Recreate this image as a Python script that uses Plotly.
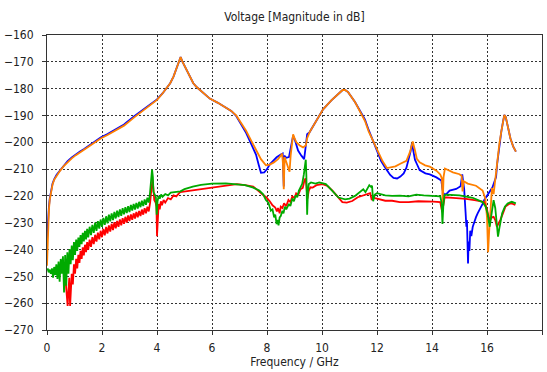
import plotly.graph_objects as go

# ---------------- data ----------------
orange_f = [0.0, 0.02, 0.04, 0.07, 0.10, 0.15, 0.20, 0.26, 0.35, 0.45, 0.6, 0.75, 0.9, 1.05, 1.2, 1.35, 1.5, 1.7, 1.95,
            2.2, 2.5, 2.8, 3.16, 3.5, 3.8, 4.0, 4.2, 4.48, 4.6, 4.72, 4.8, 4.86, 4.92, 5.0, 5.08, 5.2, 5.32, 5.45, 5.57,
            5.75, 5.92, 6.2, 6.52, 6.7, 6.88, 7.05, 7.24, 7.42, 7.6, 7.78, 7.96, 8.1, 8.25, 8.4, 8.5, 8.55, 8.58, 8.61,
            8.64, 8.70, 8.77, 8.82, 8.86, 8.92, 8.95, 9.0, 9.07, 9.19, 9.31, 9.41, 9.46, 9.55, 9.8, 10.04, 10.34, 10.6,
            10.75, 10.84, 10.95, 11.2, 11.33, 11.45, 11.56, 11.7, 11.85, 12.0, 12.2, 12.36, 12.5, 12.67, 12.83, 13.07,
            13.2, 13.3, 13.38, 13.45, 13.55, 13.75, 13.92, 14.16, 14.3, 14.36, 14.39, 14.42, 14.47, 14.58, 14.76, 15.0,
            15.08, 15.11, 15.15, 15.3, 15.6, 15.84, 15.94, 16.0, 16.04, 16.08, 16.13, 16.18, 16.24, 16.3, 16.36, 16.45,
            16.52, 16.58, 16.63, 16.68, 16.75, 16.85, 16.95, 17.05]
orange_v = [-246, -238, -230, -225, -221.5, -218, -215.8, -214, -212.3, -211, -209, -207.3, -206, -204.8, -203.8, -202.9,
            -201.8, -200.4, -198.6, -197.3, -195.6, -193.8, -190.8, -188.2, -185.8, -184.2, -181.8, -178, -175.5, -172,
            -169.8, -168.2, -169.8, -171.5, -173.2, -175.8, -178, -179.5, -180.6, -182.3, -183.7, -185.2, -187, -188.3,
            -190, -192.5, -195.7, -199.3, -203, -206.3, -208.6, -208.3, -207.5, -206.3, -205, -204.2, -208, -217.5,
            -205.5, -207.5, -209.4, -211, -205, -198.5, -197, -198.5, -200, -201.2, -201.9, -201.2, -198.5, -196.2,
            -191.9, -187.7, -184.4, -181.7, -180.5, -180.5, -181.3, -185, -187.4, -189.5, -192, -196, -199.5, -202.8,
            -207, -209.6, -209.3, -209, -208.1, -206.9, -203.6, -199.7, -203, -206.2, -207.5, -208.6, -209.1, -210.6,
            -212, -213.5, -222.5, -213, -209.8, -210.4, -211.2, -211.9, -212.6, -218.3, -214.5, -215.4, -216.2, -218,
            -221, -228, -241, -233, -222, -217, -219.3, -214, -207, -200.5, -196, -192.5, -189.8, -190.5, -193.5,
            -198.5, -201.5, -203.5]

blue_f = [0.0, 0.02, 0.04, 0.07, 0.10, 0.15, 0.20, 0.26, 0.35, 0.45, 0.6, 0.75, 0.9, 1.05, 1.2, 1.35, 1.5, 1.7, 1.95,
          2.2, 2.5, 2.8, 3.16, 3.5, 3.8, 4.0, 4.2, 4.48, 4.6, 4.72, 4.8, 4.86, 4.92, 5.0, 5.08, 5.2, 5.32, 5.45, 5.57,
          5.75, 5.92, 6.2, 6.52, 6.7, 6.88, 7.05, 7.24, 7.42, 7.6, 7.7, 7.78, 7.9, 8.0, 8.11, 8.35, 8.5, 8.57, 8.59,
          8.61, 8.63, 8.7, 8.8, 8.88, 8.95, 9.02, 9.13, 9.25, 9.35, 9.39, 9.42, 9.46, 9.55, 9.8, 10.04, 10.34, 10.6,
          10.75, 10.84, 10.95, 11.2, 11.33, 11.45, 11.56, 11.7, 11.85, 12.0, 12.15, 12.3, 12.48, 12.6, 12.73, 12.85,
          12.97, 13.07, 13.15, 13.22, 13.27, 13.32, 13.38, 13.45, 13.55, 13.76, 13.92, 14.16, 14.34, 14.38, 14.42,
          14.52, 14.64, 14.88, 15.04, 15.08, 15.10, 15.13, 15.17, 15.22, 15.25, 15.27, 15.29, 15.31, 15.33, 15.36,
          15.39, 15.43, 15.48, 15.54, 15.6, 15.66, 15.72, 15.78, 15.84, 15.9, 15.96, 16.02, 16.08, 16.14, 16.2, 16.26,
          16.33, 16.37, 16.42, 16.48, 16.52, 16.58, 16.63, 16.68, 16.75, 16.85, 16.95, 17.05]
blue_v = [-236.5, -232, -228, -224, -221, -217.7, -215.5, -213.8, -212.1, -210.8, -208.8, -207.0, -205.7, -204.4, -203.4,
          -202.5, -201.4, -200.0, -198.2, -196.9, -195.2, -193.4, -190.4, -187.8, -185.4, -184.0, -181.8, -178, -175.5,
          -172, -169.8, -168.2, -169.8, -171.5, -173.2, -175.8, -178, -179.5, -180.6, -182.3, -183.7, -185.2, -187,
          -188.3, -190.2, -193, -196.5, -200.5, -204.6, -208.5, -211.4, -211.2, -210, -208.1, -205.6, -204.6, -204.2,
          -210, -216.5, -205, -205.8, -205.5, -201.5, -197.5, -199.3, -203.1, -205, -206.3, -203, -199, -197, -196.2,
          -191.9, -187.7, -184.4, -181.7, -180.5, -180.5, -181.3, -185, -187.4, -189.3, -191.5, -195.5, -199.5,
          -203.5, -207, -209.5, -212.2, -213.3, -213.5, -212.8, -211.6, -209.5, -206.6, -203.5, -200.3, -203, -206.5,
          -208.1, -210.4, -211.6, -212, -213.1, -214.3, -217.5, -219.3, -219.3, -218, -217.4, -216.4, -213.5, -212,
          -214.5, -217.5, -226, -231.5, -229, -238, -245.2, -237, -240.5, -233, -235, -231.6, -229.5, -227.9, -226.5,
          -225.4, -224.5, -223, -221.5, -220.5, -219.8, -218.6, -218, -216.8, -215, -213, -208, -203.5, -199.5, -196,
          -192.5, -189.8, -190.5, -193.5, -198.5, -201.5, -203.5]

red_f = [0.68, 0.72, 0.75, 0.78, 0.81, 0.84, 0.87, 0.90, 0.94, 0.98, 1.02, 1.06, 1.10, 1.14, 1.18, 1.22, 1.26, 1.30,
         1.34, 1.38, 1.42, 1.46, 1.50, 1.55, 1.60, 1.65, 1.70, 1.75, 1.80, 1.85, 1.90, 1.95, 2.00, 2.05, 2.10, 2.15,
         2.20, 2.25, 2.30, 2.35, 2.40, 2.45, 2.50, 2.55, 2.60, 2.65, 2.70, 2.75, 2.80, 2.85, 2.90, 2.95, 3.00, 3.05,
         3.10, 3.15, 3.20, 3.25, 3.30, 3.35, 3.40, 3.45, 3.50, 3.55, 3.60, 3.65, 3.70, 3.75, 3.80, 3.84, 3.87, 3.90,
         3.95, 3.98, 4.00, 4.03, 4.06, 4.10, 4.14, 4.18, 4.24, 4.30, 4.40, 4.50, 4.60, 4.70, 4.84, 5.1, 6.0, 6.9,
         7.2, 7.5, 7.84, 7.98, 8.1, 8.2, 8.3, 8.36, 8.40, 8.46, 8.50, 8.56, 8.62, 8.70, 8.78, 8.85, 8.92, 9.0, 9.06,
         9.14, 9.22, 9.30, 9.36, 9.40, 9.43, 9.47, 9.52, 9.58, 9.66, 9.8, 10.02, 10.2, 10.38, 10.55, 10.74, 10.9,
         11.1, 11.3, 11.57, 11.75, 11.81, 11.87, 11.93, 12.06, 12.3, 12.55, 12.83, 13.15, 13.5, 14.04, 14.3, 14.37,
         14.4, 14.46, 14.76, 15.24, 15.6, 15.9, 16.0, 16.06, 16.12, 16.18, 16.24, 16.3, 16.36, 16.42, 16.48, 16.58,
         16.67, 16.8, 16.9, 17.03]
red_v = [-252.0, -257.0, -261.0, -255.0, -250.5, -261.0, -256.0, -249.0, -253.0, -245.5, -249.0, -243.5, -247.0, -242.0,
         -245.0, -240.5, -243.5, -239.2, -242.2, -238.2, -241.0, -237.2, -240.0, -236.3, -239.0, -235.4, -238.0, -234.5,
         -237.0, -233.7, -236.2, -233.0, -235.4, -232.3, -234.7, -231.6, -234.0, -231.0, -233.3, -230.4, -232.7, -229.8,
         -232.1, -229.3, -231.5, -228.8, -231.0, -228.3, -230.4, -227.8, -229.9, -227.3, -229.4, -226.9, -228.9, -226.5,
         -228.4, -226.0, -228.0, -225.6, -227.5, -225.1, -227.0, -224.6, -226.5, -224.0, -225.8, -222.5, -217.0, -214.0,
         -217.5, -221.5, -222.5, -224.0, -235.0, -225.5, -223.0, -225.0, -222.0, -223.5, -221.5, -222.5, -220.8, -221.3,
         -219.8, -220.2, -218.6, -218.2, -217.0, -215.6, -216.0, -216.5, -219.5, -220.6, -222.0, -223.5, -224.3, -225.8,
         -224.5, -226.5, -224.0, -224.5, -222.8, -223.8, -221.5, -222.3, -220.2, -220.8, -219.0, -219.5, -217.5, -217.0,
         -214.3, -213.5, -216.0, -221.0, -218.0, -216.8, -216.9, -216.0, -215.6, -216.3, -218.0, -220.0, -222.3, -222.5,
         -221.9, -220.5, -219.6, -219.0, -221.5, -220.5, -220.8, -221.2, -221.8, -221.8, -222.3, -222.3, -222.0, -222.1,
         -222.3, -226.0, -223.5, -220.5, -220.7, -221.1, -221.7, -222.3, -225.0, -227.9, -229.0, -228.0, -227.8, -229.0,
         -231.5, -230.5, -229.0, -226.5, -224.0, -223.0, -222.8, -223.4]

green_f = [0.02, 0.06, 0.10, 0.14, 0.18, 0.22, 0.26, 0.30, 0.34, 0.38, 0.42, 0.46, 0.50, 0.54, 0.58, 0.62, 0.66, 0.70,
           0.74, 0.78, 0.82, 0.86, 0.90, 0.94, 0.98, 1.02, 1.06, 1.10, 1.14, 1.18, 1.22, 1.26, 1.30, 1.34, 1.38, 1.42,
           1.46, 1.50, 1.55, 1.60, 1.65, 1.70, 1.75, 1.80, 1.85, 1.90, 1.95, 2.00, 2.05, 2.10, 2.15, 2.20, 2.25, 2.30,
           2.35, 2.40, 2.45, 2.50, 2.55, 2.60, 2.65, 2.70, 2.75, 2.80, 2.85, 2.90, 2.95, 3.00, 3.05, 3.10, 3.15, 3.20,
           3.25, 3.30, 3.35, 3.40, 3.45, 3.50, 3.55, 3.60, 3.65, 3.70, 3.74, 3.78, 3.82, 3.85, 3.87, 3.92, 3.96, 3.99,
           4.02, 4.06, 4.10, 4.15, 4.20, 4.30, 4.40, 4.50, 4.65, 4.85, 5.0, 5.3, 5.6, 6.0, 6.5, 6.9, 7.2, 7.5, 7.72,
           7.86, 7.96, 8.05, 8.14, 8.2, 8.26, 8.30, 8.35, 8.38, 8.42, 8.46, 8.50, 8.56, 8.60, 8.65, 8.70, 8.80, 8.85,
           8.92, 8.98, 9.04, 9.10, 9.16, 9.22, 9.28, 9.34, 9.38, 9.41, 9.43, 9.46, 9.49, 9.52, 9.6, 9.76, 9.9, 10.0,
           10.14, 10.24, 10.4, 10.6, 10.84, 11.0, 11.2, 11.4, 11.5, 11.58, 11.68, 11.72, 11.78, 11.82, 11.86, 11.92,
           12.0, 12.3, 12.55, 12.83, 13.15, 13.43, 13.7, 14.04, 14.3, 14.35, 14.38, 14.41, 14.45, 14.52, 15.0, 15.48,
           15.84, 15.95, 16.02, 16.06, 16.10, 16.14, 16.18, 16.24, 16.30, 16.36, 16.40, 16.45, 16.55, 16.65, 16.75,
           16.9, 17.05]
green_v = [-247.0, -248.5, -247.5, -249.0, -247.0, -250.5, -246.5, -249.5, -245.5, -251.0, -244.5, -252.0, -243.5, -249.0,
           -242.5, -256.0, -242.0, -253.5, -241.0, -249.0, -239.8, -245.5, -238.5, -244.0, -237.2, -242.0, -236.3, -240.5,
           -235.5, -239.0, -234.6, -238.0, -233.8, -237.0, -233.0, -236.2, -232.3, -235.5, -231.5, -234.6, -230.8, -233.8,
           -230.0, -233.0, -229.4, -232.2, -228.8, -231.5, -228.2, -230.8, -227.6, -230.2, -227.0, -229.5, -226.5, -229.0,
           -226.0, -228.4, -225.5, -227.9, -225.0, -227.4, -224.6, -226.9, -224.2, -226.4, -223.8, -226.0, -223.4, -225.5,
           -223.0, -225.1, -222.6, -224.7, -222.2, -224.2, -221.8, -223.8, -221.3, -223.3, -220.7, -222.5, -219.5, -215.0,
           -210.2, -213.0, -218.5, -219.5, -220.5, -227.0, -222.0, -220.0, -221.0, -219.5, -220.3, -219.3, -219.8, -218.8,
           -218.5, -218.3, -217.5, -216.5, -215.9, -215.4, -215.3, -215.6, -216.0, -216.9, -218.0, -219.4, -221.5, -222.5,
           -225.5, -225.0, -228.0, -227.0, -230.5, -229.0, -231.0, -228.0, -227.5, -225.5, -226.5, -224.0, -225.0, -223.0,
           -223.8, -221.0, -222.0, -219.8, -220.5, -218.0, -217.0, -215.5, -212.0, -208.0, -206.5, -212.0, -227.0, -218.0,
           -215.6, -215.0, -215.4, -215.0, -215.2, -215.6, -216.6, -218.3, -220.6, -221.3, -221.0, -220.0, -218.5, -217.5,
           -218.6, -217.0, -216.0, -216.6, -216.2, -222.0, -219.5, -219.0, -219.8, -220.0, -219.9, -220.2, -219.5, -219.8,
           -219.9, -220.2, -222.5, -230.5, -224.0, -219.8, -219.5, -219.8, -220.7, -222.3, -224.0, -226.5, -229.0, -231.5,
           -228.5, -226.0, -221.6, -224.5, -231.0, -235.2, -232.0, -226.5, -224.0, -222.8, -222.2, -222.8]

x_ticks = [0, 2, 4, 6, 8, 10, 12, 14, 16, 18]
y_ticks = [-270, -260, -250, -240, -230, -220, -210, -200, -190, -180, -170, -160]

FONT = "DejaVu Sans Condensed, Liberation Sans, Arial, sans-serif"

fig = go.Figure()
series = [
    (blue_f, blue_v, "#0000FF"),
    (orange_f, orange_v, "#FF8000"),
    (red_f, red_v, "#FF0000"),
    (green_f, green_v, "#00AA00"),
]
for fx, fv, col in series:
    fig.add_trace(go.Scatter(x=fx, y=fv, mode="lines", line=dict(color=col, width=1.8),
                             showlegend=False, hoverinfo="skip"))

axis_common = dict(
    showgrid=True, gridcolor="#333333", gridwidth=1, griddash="2px,2px",
    showline=True, linecolor="#333333", linewidth=1, mirror=True,
    ticks="outside", ticklen=4, tickcolor="#333333", zeroline=False,
    tickfont=dict(family=FONT, size=12, color="#222222"),
)

fig.update_layout(
    width=547, height=372,
    margin=dict(l=46, r=4, t=35, b=42, pad=0),
    paper_bgcolor="white", plot_bgcolor="white",
    font=dict(family=FONT, size=12, color="#222222"),
    title=dict(text="Voltage [Magnitude in dB]", x=0.5, xref="paper", y=1 - 16.5 / 372, yref="container",
               yanchor="middle", font=dict(family=FONT, size=12, color="#222222")),
    xaxis=dict(range=[0, 18], tickvals=x_ticks, ticklabelstandoff=3,
               title=dict(text="Frequency / GHz", standoff=1, font=dict(family=FONT, size=12, color="#222222")),
               **axis_common),
    yaxis=dict(range=[-270, -160], tickvals=y_ticks, ticklabelstandoff=6, **axis_common),
)

fig.write_html("out.html")
